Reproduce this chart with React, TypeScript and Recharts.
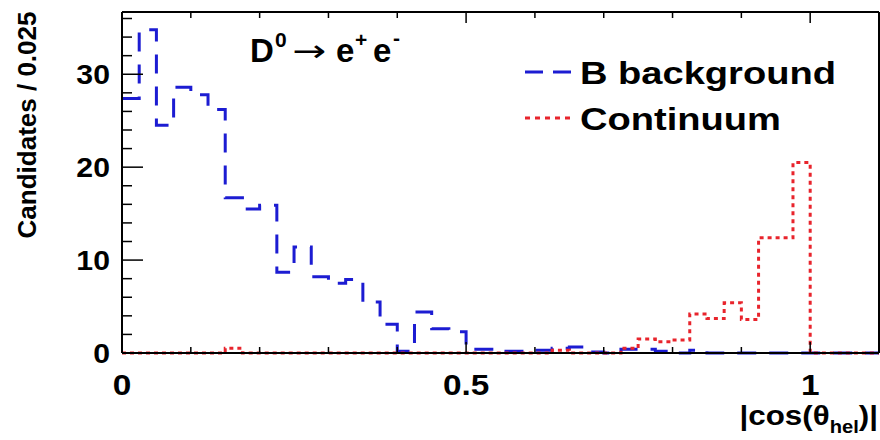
import { ComposedChart, Line, XAxis, YAxis } from 'recharts';

const FONT = '"Liberation Sans", Arial, Helvetica, sans-serif';
const BLUE = '#1c1cd2';
const RED = '#e8242c';

// histogram: 44 bins of 0.025 in |cos(theta_hel)|
const BIN_WIDTH = 0.025;
const X_MAX = 1.1;
const Y_MAX = 36.7;

const bBackground = [
  27.4, 34.8, 24.5, 28.6, 27.8, 26.2, 16.7, 15.5, 15.9, 8.7, 11.4,
  8.2, 7.5, 7.9, 5.5, 3.1, 0.2, 4.4, 2.6, 2.3, 0.4, 0.4,
  0.2, 0.2, 0.3, 0.5, 0.65, 0.1, 0, 0.4, 0.4, 0.2, 0,
  0.3, 0, 0, 0, 0, 0, 0, 0, 0, 0, 0,
];

const continuum = [
  0, 0, 0, 0, 0, 0, 0.5, 0, 0, 0, 0,
  0, 0, 0, 0, 0, 0, 0, 0, 0, 0, 0,
  0, 0, 0, 0.3, 0, 0, 0, 0.5, 1.5, 1.2, 1.4,
  4.2, 3.7, 5.4, 3.6, 12.4, 12.4, 20.5, 0, 0, 0, 0,
];

const xTicks = [0, 0.1, 0.2, 0.3, 0.4, 0.5, 0.6, 0.7, 0.8, 0.9, 1, 1.1];
const xTickLabels = [
  { value: 0, text: '0' },
  { value: 0.5, text: '0.5' },
  { value: 1, text: '1' },
];
const yTicks = [0, 2, 4, 6, 8, 10, 12, 14, 16, 18, 20, 22, 24, 26, 28, 30, 32, 34, 36];
const yTickLabels = [0, 10, 20, 30];

const rows = bBackground.map((v, i) => ({
  x: Number((i * BIN_WIDTH).toFixed(3)),
  bkg: v,
  cont: continuum[i],
}));
rows.push({ x: X_MAX, bkg: 0, cont: 0 });

type TickProps = { x?: number; y?: number; payload?: { value: number } };

function xLabel(v: number) {
  const hit = xTickLabels.find((t) => Math.abs(t.value - v) < 1e-6);
  return hit ? hit.text : null;
}

function BottomTick({ x = 0, y = 0, payload }: TickProps) {
  const label = xLabel(payload?.value ?? -1);
  return (
    <g>
      <line x1={x} y1={y} x2={x} y2={y - (label ? 11 : 6)} stroke="#000" strokeWidth={1.5} />
      {label && (
        <text
          transform={`translate(${x},${y + 42}) scale(1.15,1)`}
          textAnchor="middle"
          fontFamily={FONT}
          fontWeight="bold"
          fontSize={29}
          fill="#000"
        >
          {label}
        </text>
      )}
    </g>
  );
}

function TopTick({ x = 0, y = 0, payload }: TickProps) {
  const major = xLabel(payload?.value ?? -1) !== null;
  return <line x1={x} y1={y} x2={x} y2={y + (major ? 11 : 6)} stroke="#000" strokeWidth={1.5} />;
}

function LeftTick({ x = 0, y = 0, payload }: TickProps) {
  const v = payload?.value ?? -1;
  const major = yTickLabels.includes(v);
  return (
    <g>
      <line x1={x} y1={y} x2={x + (major ? 21 : 10)} y2={y} stroke="#000" strokeWidth={1.5} />
      {major && (
        <text
          transform={`translate(${x - 12},${y + 10}) scale(1.12,1)`}
          textAnchor="end"
          fontFamily={FONT}
          fontWeight="bold"
          fontSize={27}
          fill="#000"
        >
          {v}
        </text>
      )}
    </g>
  );
}

function RightTick({ x = 0, y = 0, payload }: TickProps) {
  const major = yTickLabels.includes(payload?.value ?? -1);
  return <line x1={x} y1={y} x2={x - (major ? 21 : 10)} y2={y} stroke="#000" strokeWidth={1.5} />;
}

const axisLine = { stroke: '#000', strokeWidth: 2 };

export default function App() {
  return (
    <div style={{ position: 'absolute', left: 0, top: 0, width: 880, height: 440, background: '#fff' }}>
      <ComposedChart width={880} height={440} data={rows} margin={{ top: 11, right: 0, bottom: 0, left: 0 }}>
        <XAxis
          xAxisId="bottom"
          dataKey="x"
          type="number"
          domain={[0, X_MAX]}
          ticks={xTicks}
          interval={0}
          height={87}
          tickSize={0}
          tickMargin={0}
          tickLine={false}
          axisLine={axisLine}
          tick={(p: TickProps) => <BottomTick {...p} />}
        />
        <XAxis
          xAxisId="top"
          orientation="top"
          dataKey="x"
          type="number"
          domain={[0, X_MAX]}
          ticks={xTicks}
          interval={0}
          height={1}
          tickSize={0}
          tickMargin={0}
          tickLine={false}
          axisLine={axisLine}
          tick={(p: TickProps) => <TopTick {...p} />}
        />
        <YAxis
          yAxisId="left"
          type="number"
          domain={[0, Y_MAX]}
          ticks={yTicks}
          interval={0}
          width={122}
          tickSize={0}
          tickMargin={0}
          tickLine={false}
          axisLine={axisLine}
          tick={(p: TickProps) => <LeftTick {...p} />}
        />
        <YAxis
          yAxisId="right"
          orientation="right"
          type="number"
          domain={[0, Y_MAX]}
          ticks={yTicks}
          interval={0}
          width={1}
          tickSize={0}
          tickMargin={0}
          tickLine={false}
          axisLine={axisLine}
          tick={(p: TickProps) => <RightTick {...p} />}
        />
        <Line
          xAxisId="bottom"
          yAxisId="left"
          type="stepAfter"
          dataKey="bkg"
          stroke={BLUE}
          strokeWidth={3}
          strokeDasharray="19 13"
          dot={false}
          activeDot={false}
          isAnimationActive={false}
        />
        <Line
          xAxisId="bottom"
          yAxisId="left"
          type="stepAfter"
          dataKey="cont"
          stroke={RED}
          strokeWidth={3}
          strokeDasharray="4 4"
          dot={false}
          activeDot={false}
          isAnimationActive={false}
        />
      </ComposedChart>

      <svg
        width={880}
        height={440}
        style={{ position: 'absolute', left: 0, top: 0, pointerEvents: 'none' }}
        fontFamily={FONT}
        fontWeight="bold"
        fill="#000"
      >
        {/* title: D0 -> e+ e- */}
        <text x={250} y={62} fontSize={33}>D</text>
        <text x={275} y={47} fontSize={21}>0</text>
        <text
          transform="translate(292,61) scale(1.35,1)"
          fontSize={30}
          fontFamily='"DejaVu Sans", sans-serif'
          fontWeight="normal"
        >
          →
        </text>
        <text x={336} y={62} fontSize={33}>e</text>
        <text x={355} y={47} fontSize={21}>+</text>
        <text x={373} y={62} fontSize={33}>e</text>
        <text x={393} y={45} fontSize={21}>-</text>

        {/* legend */}
        <line x1={525} y1={72} x2={571} y2={72} stroke={BLUE} strokeWidth={3} strokeDasharray="18 10" />
        <text transform="translate(580,84) scale(1.19,1)" fontSize={32}>B background</text>
        <line x1={525} y1={118} x2={571} y2={118} stroke={RED} strokeWidth={3} strokeDasharray="5 5" />
        <text transform="translate(580,130) scale(1.19,1)" fontSize={32}>Continuum</text>

        {/* axis titles */}
        <text transform="translate(36,125) rotate(-90)" textAnchor="middle" fontSize={26}>
          Candidates / 0.025
        </text>
        <text transform="translate(878,425) scale(1.12,1)" textAnchor="end" fontSize={28}>
          |cos(θ<tspan fontSize={18} dy={8}>hel</tspan>
          <tspan dy={-8}>)|</tspan>
        </text>
      </svg>
    </div>
  );
}
